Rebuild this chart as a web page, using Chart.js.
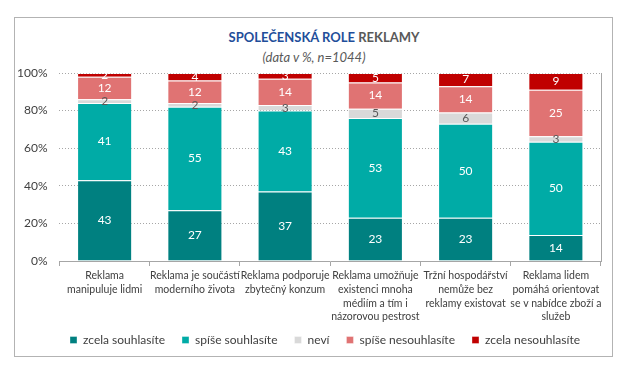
<!DOCTYPE html>
<html>
<head>
<meta charset="utf-8">
<script src="https://cdn.jsdelivr.net/npm/chart.js@4"></script>
<style>
  body { margin: 0; background: #fff; }
  #wrap { position: relative; width: 632px; height: 374px; }
  #frame { position: absolute; left: 14px; top: 17px; width: 597px; height: 338px; border: 1px solid #b3b3b3; }
  #title { position: absolute; left: 14px; width: 620px; top: 29px; text-align: center;
    font: bold 13px Lato, "Open Sans", sans-serif; color: #1f4e9a; }
  #title span { color: #595959; }
  #subtitle { position: absolute; left: 14px; width: 600px; top: 49px; text-align: center;
    font: italic 13px Lato, "Open Sans", sans-serif; color: #595959; }
  canvas { position: absolute; left: 0; top: 0; }
</style>
</head>
<body>
<div id="wrap">
  <div id="frame"></div>
  <div id="title">SPOLEČENSKÁ ROLE <span>REKLAMY</span></div>
  <div id="subtitle">(data v %, n=1044)</div>
  <canvas id="chart" width="632" height="374"></canvas>
</div>
<script>
const categories = [
  ['Reklama', 'manipuluje lidmi'],
  ['Reklama je součástí', 'moderního života'],
  ['Reklama podporuje', 'zbytečný konzum'],
  ['Reklama umožňuje', 'existenci mnoha', 'médiím a tím i', 'názorovou pestrost'],
  ['Tržní hospodářství', 'nemůže bez', 'reklamy existovat'],
  ['Reklama lidem', 'pomáhá orientovat', 'se v nabídce zboží a', 'služeb'],
];

const zcelaSouhlasite = [43, 27, 37, 23, 23, 14];
const spiseSouhlasite = [41, 55, 43, 53, 50, 50];
const nevi = [2, 2, 3, 5, 6, 3];
const spiseNesouhlasite = [12, 12, 14, 14, 14, 25];
const zcelaNesouhlasite = [2, 4, 3, 5, 7, 9];

const yTicks = [0, 20, 40, 60, 80, 100];

const series = [
  { label: 'zcela souhlasíte', values: zcelaSouhlasite, color: '#008080', text: '#ffffff' },
  { label: 'spíše souhlasíte', values: spiseSouhlasite, color: '#00aba6', text: '#ffffff' },
  { label: 'neví', values: nevi, color: '#d9d9d9', text: '#595959' },
  { label: 'spíše nesouhlasíte', values: spiseNesouhlasite, color: '#e07373', text: '#ffffff' },
  { label: 'zcela nesouhlasíte', values: zcelaNesouhlasite, color: '#c00000', text: '#ffffff' },
];

// 100% stacked: each bar is scaled to its own total
const totals = categories.map((c, i) => series.reduce((s, d) => s + d.values[i], 0));

const FONT = 'Lato, "Open Sans", sans-serif';

const valueLabels = {
  id: 'valueLabels',
  afterDatasetsDraw(chart) {
    const ctx = chart.ctx;
    ctx.save();
    ctx.font = '12px ' + FONT;
    ctx.textAlign = 'center';
    ctx.textBaseline = 'middle';
    chart.data.datasets.forEach((ds, di) => {
      const meta = chart.getDatasetMeta(di);
      meta.data.forEach((bar, i) => {
        ctx.fillStyle = series[di].text;
        ctx.fillText(String(series[di].values[i]), bar.x, (bar.y + bar.base) / 2);
      });
    });
    ctx.restore();
  }
};

// move the legend row a bit up and right, like in the original
const legendShift = {
  id: 'legendShift',
  afterLayout(chart) {
    const lg = chart.legend;
    lg.top -= 8; lg.bottom -= 8;
    lg.left += 22; lg.right += 22;
  }
};

new Chart(document.getElementById('chart'), {
  type: 'bar',
  data: {
    labels: categories,
    datasets: series.map(s => ({
      label: s.label,
      data: s.values.map((v, i) => v / totals[i] * 100),
      backgroundColor: s.color,
      borderColor: 'rgba(255,255,255,0.35)',
      borderWidth: 1,
      categoryPercentage: 1,
      barPercentage: 0.61,
    })),
  },
  options: {
    responsive: false,
    animation: false,
    layout: { padding: { left: 5, right: 31, top: 73, bottom: 10 } },
    scales: {
      x: {
        stacked: true,
        grid: { display: true, drawOnChartArea: false, drawTicks: true, tickLength: 5, color: '#a6a6a6' },
        border: { display: true, color: '#a6a6a6' },
        ticks: { autoSkip: false, maxRotation: 0, color: '#404040', font: { family: FONT, size: 10.5, lineHeight: 1.3 }, padding: 3 },
        afterFit: scale => { scale.height = 64; scale.paddingLeft = 0; scale.paddingRight = 0; },
      },
      y: {
        stacked: true,
        min: 0,
        max: 100,
        afterBuildTicks: scale => { scale.ticks = yTicks.map(v => ({ value: v })); },
        grid: { color: '#a6a6a6', drawTicks: false },
        border: { display: false, dash: [1, 2] },
        ticks: { color: '#404040', font: { family: FONT, size: 12 }, padding: 12, callback: v => v + '%' },
      },
      y2: {
        position: 'right',
        grid: { display: false },
        ticks: { display: false },
        border: { display: true, color: '#a6a6a6' },
        afterFit: scale => { scale.width = 0; },
      },
    },
    plugins: {
      legend: {
        position: 'bottom',
        labels: { boxWidth: 7, boxHeight: 7, padding: 17, color: '#404040', font: { family: FONT, size: 12 } },
      },
      tooltip: { enabled: false },
    },
  },
  plugins: [valueLabels, legendShift],
});
</script>
</body>
</html>
